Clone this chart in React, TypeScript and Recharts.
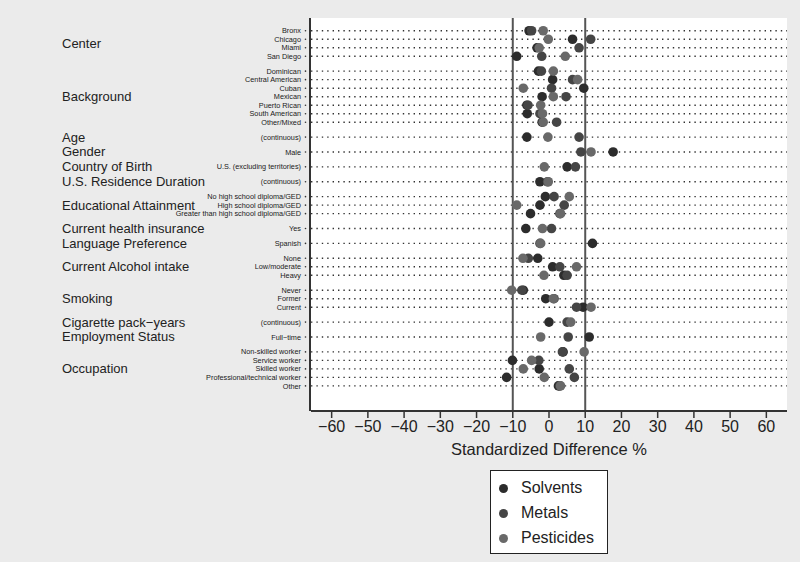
import React from 'react';
import {
  ScatterChart, Scatter, XAxis, YAxis, ReferenceLine, ReferenceArea
} from 'recharts';

const GROUPS = [
  'Center', 'Background', 'Age', 'Gender', 'Country of Birth', 'U.S. Residence Duration',
  'Educational Attainment', 'Current health insurance', 'Language Preference',
  'Current Alcohol intake', 'Smoking', 'Cigarette pack\u2212years', 'Employment Status', 'Occupation',
];

const ROW_LABELS = [
  'Bronx', 'Chicago', 'Miami', 'San Diego',
  'Dominican', 'Central American', 'Cuban', 'Mexican', 'Puerto Rican', 'South American', 'Other/Mixed',
  '(continuous)', 'Male', 'U.S. (excluding territories)', '(continuous)',
  'No high school diploma/GED', 'High school diploma/GED', 'Greater than high school diploma/GED',
  'Yes', 'Spanish', 'None', 'Low/moderate', 'Heavy', 'Never', 'Former', 'Current',
  '(continuous)', 'Full\u2212time',
  'Non-skilled worker', 'Service worker', 'Skilled worker', 'Professional/technical worker', 'Other',
];

const ROW_GROUP = [
  0, 0, 0, 0, 1, 1, 1, 1, 1, 1, 1, 2, 3, 4, 5, 6, 6, 6, 7, 8, 9, 9, 9, 10, 10, 10, 11, 12, 13, 13, 13, 13, 13,
];

const solvents = [
  -5.5, 6.5, -3.3, -8.9, -2.9, 1.0, 9.6, -1.9, -6.1, -6.0, -1.9, -6.1, 17.7, 5.0, -2.5, -1.0, -2.5,
  -5.1, -6.4, 12.0, -3.1, 1.0, 4.1, -7.1, -0.9, 9.4, 0.0, 11.1, 3.9, -10.1, -2.7, -11.7, 2.6,
];
const metals = [
  -4.8, 11.5, 8.3, -2.0, -2.1, 6.5, 0.7, 4.7, -5.8, -2.5, 2.1, 8.3, 8.8, 7.3, -0.4, 1.4, 4.2,
  3.0, 0.7, -2.5, -5.7, 3.0, 5.0, -7.5, 1.4, 7.6, 5.0, 5.3, 3.7, -2.8, 5.6, 7.0, 3.0,
];
const pesticides = [
  -1.6, -0.2, -2.7, 4.5, 1.2, 7.9, -7.1, 1.2, -2.3, -1.8, -1.6, -0.3, 11.6, -1.3, -0.2, 5.6, -8.9,
  3.2, -1.8, -2.3, -7.2, 7.6, -1.4, -10.3, 1.2, 11.6, 6.0, -2.3, 9.7, -4.8, -7.1, -1.3, 3.2,
];

const X_TICKS = [-60, -50, -40, -30, -20, -10, 0, 10, 20, 30, 40, 50, 60];

const FONT = '"Liberation Sans", Arial, Helvetica, sans-serif';
const COLORS = { solvents: '#2c2c2c', metals: '#454545', pesticides: '#696969' };

// row position: one unit per row, extra gap between groups
const rowPos = ROW_GROUP.map((g, i) => i + g * 0.75);
const groupPos = GROUPS.map((_, g) => {
  const ps = rowPos.filter((_, i) => ROW_GROUP[i] === g);
  return ps.reduce((a, b) => a + b, 0) / ps.length;
});

const toPoints = (vals: number[]) => vals.map((v, i) => ({ x: v, y: rowPos[i] }));

const dot = (fill: string) => (props: any) => (
  <circle cx={props.cx} cy={props.cy} r={4.8} fill={fill} />
);

const RowTick = (props: any) => {
  const idx = rowPos.indexOf(props.payload.value);
  return (
    <g>
      <text x={301} y={props.y} dy={2.6} textAnchor="end" fontSize={7.3} fill="#1a1a1a" fontFamily={FONT}>
        {ROW_LABELS[idx]}
      </text>
      <circle cx={305.5} cy={props.y} r={0.8} fill="#333" />
    </g>
  );
};

const GroupTick = (props: any) => {
  const idx = groupPos.indexOf(props.payload.value);
  return (
    <text x={62} y={props.y} dy={4.5} textAnchor="start" fontSize={13} fill="#222" fontFamily={FONT}>
      {GROUPS[idx]}
    </text>
  );
};

const legendItems = [
  { name: 'Solvents', color: COLORS.solvents },
  { name: 'Metals', color: COLORS.metals },
  { name: 'Pesticides', color: COLORS.pesticides },
];

export default function App() {
  return (
    <div style={{ position: 'absolute', left: 0, top: 0, width: 800, height: 562, background: '#ebebeb', fontFamily: FONT }}>
      <ScatterChart width={800} height={562} margin={{ top: 18, right: 13, bottom: 101, left: 0 }}>
        <XAxis
          type="number"
          dataKey="x"
          domain={[-65.7, 65.7]}
          ticks={X_TICKS}
          allowDataOverflow
          tickSize={7}
          tickMargin={3}
          tickFormatter={(v: number) => String(v).replace('-', '\u2212')}
          tick={{ fontSize: 16, fill: '#222', fontFamily: FONT }}
          axisLine={{ stroke: '#333', strokeWidth: 2 }}
          tickLine={{ stroke: '#333', strokeWidth: 1.5 }}
          height={50}
          label={{ value: 'Standardized Difference %', position: 'insideBottom', offset: 6, fontSize: 16.5, fill: '#222', fontFamily: FONT }}
        />
        <YAxis
          yAxisId="rows"
          type="number"
          dataKey="y"
          domain={[-1.5, 44.7]}
          reversed
          allowDataOverflow
          ticks={rowPos}
          interval={0}
          width={310}
          tick={<RowTick />}
          tickLine={false}
          axisLine={{ stroke: '#333', strokeWidth: 2 }}
        />
        <YAxis
          yAxisId="groups"
          type="number"
          domain={[-1.5, 44.7]}
          reversed
          allowDataOverflow
          ticks={groupPos}
          interval={0}
          width={1}
          tick={<GroupTick />}
          tickLine={false}
          axisLine={false}
        />
        <ReferenceArea yAxisId="rows" x1={-65.7} x2={65.7} y1={-1.5} y2={44.7} fill="#fff" fillOpacity={1} stroke="none" />
        {rowPos.map((p, i) => (
          <ReferenceLine key={i} yAxisId="rows" y={p} stroke="#333" strokeWidth={1.4} strokeDasharray="1.4 4" />
        ))}
        <ReferenceLine yAxisId="rows" x={-10} stroke="#555" strokeWidth={2} />
        <ReferenceLine yAxisId="rows" x={10} stroke="#555" strokeWidth={2} />
        <Scatter yAxisId="rows" name="Solvents" data={toPoints(solvents)} shape={dot(COLORS.solvents)} isAnimationActive={false} />
        <Scatter yAxisId="rows" name="Metals" data={toPoints(metals)} shape={dot(COLORS.metals)} isAnimationActive={false} />
        <Scatter yAxisId="rows" name="Pesticides" data={toPoints(pesticides)} shape={dot(COLORS.pesticides)} isAnimationActive={false} />
      </ScatterChart>
      <div style={{ position: 'absolute', left: 490, top: 470, width: 116, height: 82, background: '#fff', border: '1px solid #222', boxSizing: 'content-box' }}>
        {legendItems.map((it, i) => (
          <div key={it.name} style={{ position: 'absolute', left: 8, top: 7 + i * 25, height: 20, display: 'flex', alignItems: 'center' }}>
            <span style={{ width: 9, height: 9, borderRadius: '50%', background: it.color, display: 'inline-block' }} />
            <span style={{ marginLeft: 13, fontSize: 16, color: '#222' }}>{it.name}</span>
          </div>
        ))}
      </div>
    </div>
  );
}
